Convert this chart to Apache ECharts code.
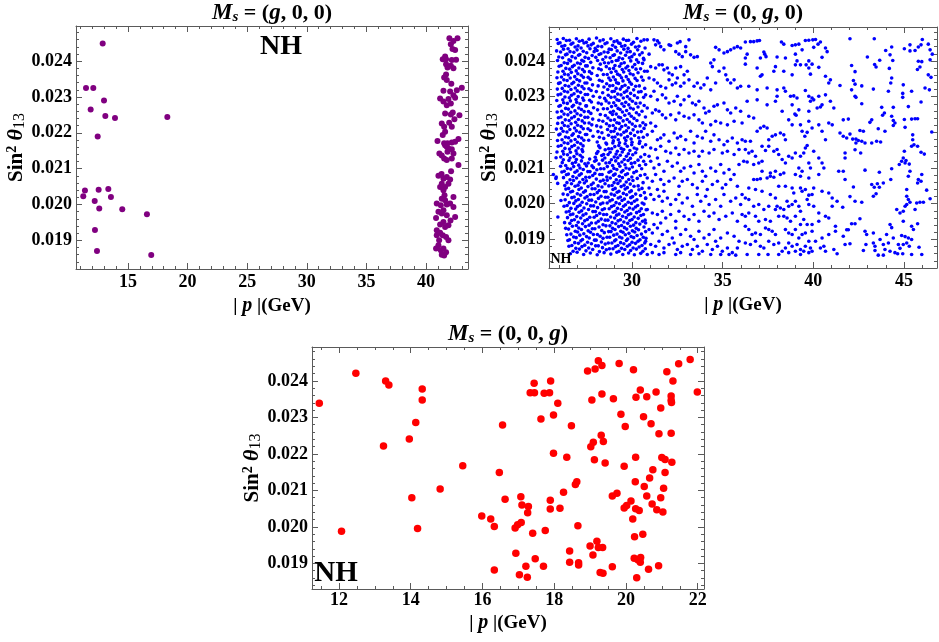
<!DOCTYPE html>
<html>
<head>
<meta charset="utf-8">
<script src="https://cdn.jsdelivr.net/npm/echarts@6/dist/echarts.min.js"></script>
<style>
html,body{margin:0;padding:0;background:#fff}
#chart{width:939px;height:642px}
</style>
</head>
<body>
<div id="chart"></div>
<script>
// ---- scan points: [ |p| in GeV , sin^2 theta13 ] ----

// M_s = (g, 0, 0)
const msG00 = [
[12.88,.02449],[11.48,.02325],[12.09,.02325],[12.99,.02290],[11.87,.02265],[13.10,.02247],[13.91,.02241],
[18.30,.02244],[12.46,.02190],[11.39,.02039],[11.25,.02023],[12.54,.02041],[13.35,.02043],[13.57,.02021],
[12.21,.02010],[12.59,.01989],[14.52,.01987],[16.59,.01973],[12.23,.01929],[12.40,.01870],[16.95,.01859],
[41.96,.02464],[42.30,.02456],[42.64,.02464],[42.08,.02447],[42.22,.02434],[42.44,.02431],[41.60,.02413],
[41.68,.02405],[42.16,.02403],[41.68,.02391],[42.08,.02387],[42.30,.02380],[41.80,.02382],[41.68,.02363],
[41.52,.02354],[41.74,.02347],[43.00,.02326],[42.58,.02319],[41.46,.02317],[42.02,.02315],[42.30,.02305],
[41.18,.02296],[41.46,.02287],[41.88,.02294],[42.08,.02282],[41.74,.02277],[42.44,.02298],[41.60,.02254],
[42.08,.02251],[42.24,.02257],[42.80,.02249],[41.32,.02226],[41.52,.02217],[42.16,.02217],[41.60,.02203],
[40.96,.02177],[41.40,.02194],[41.52,.02171],[41.80,.02171],[42.16,.02173],[42.44,.02175],[42.72,.02183],
[41.74,.02161],[41.60,.02165],[41.88,.02156],[42.16,.02154],[41.80,.02147],[42.30,.02142],[41.32,.02137],
[41.12,.02142],[41.52,.02128],[41.74,.02124],[42.16,.02128],[42.72,.02110],[41.04,.02080],[41.46,.02072],
[41.74,.02077],[42.02,.02070],[41.32,.02058],[41.88,.02058],[41.60,.02049],[41.18,.02049],[41.46,.02040],
[42.30,.02021],[41.32,.02016],[41.60,.02012],[40.90,.02003],[41.24,.01998],[41.74,.02000],[42.02,.02003],
[42.30,.01993],[41.46,.01984],[41.04,.01980],[41.32,.01975],[40.84,.01962],[41.74,.01970],[42.44,.01965],
[41.46,.01951],[41.18,.01944],[41.60,.01937],[41.88,.01942],[40.90,.01928],[41.18,.01921],[41.40,.01914],
[40.90,.01914],[41.68,.01909],[41.88,.01900],[41.04,.01886],[40.84,.01877],[41.24,.01872],[41.46,.01877],
[41.68,.01867],[41.32,.01860],[41.52,.01858],[42.12,.02337],[41.94,.02228],[42.38,.02238],[41.30,.02085],
[42.10,.02093],[41.55,.02026],[42.05,.01955],[41.10,.01900],[42.52,.02404],[41.40,.02405]
];

// M_s = (0, g, 0), dense low |p| strip
const ms0G0a = [
[25.87,.02460],[26.21,.02463],[26.55,.02458],[26.93,.02462],[27.26,.02457],[27.63,.02461],[28.04,.02464],[28.41,.02459],[28.83,.02462],[29.17,.02456],[29.52,.02461],[29.81,.02458],[30.27,.02463],[30.66,.02459],
[26.03,.02451],[26.38,.02457],[26.74,.02450],[27.09,.02455],[27.48,.02452],[27.86,.02449],[28.23,.02456],[28.62,.02451],[29.01,.02454],[29.34,.02449],[29.69,.02457],[30.08,.02452],[30.49,.02455],
[25.93,.02449],[26.29,.02443],[26.64,.02447],[27.02,.02442],[27.35,.02450],[27.75,.02445],[28.12,.02441],[28.51,.02448],[28.93,.02444],[29.26,.02450],[29.61,.02443],[29.97,.02447],[30.38,.02441],
[26.13,.02441],[26.47,.02434],[26.86,.02439],[27.19,.02436],[27.57,.02442],[27.97,.02435],[28.33,.02440],[28.74,.02433],[29.09,.02438],[29.43,.02441],[29.78,.02435],[30.19,.02439],[30.72,.02436],
[25.84,.02428],[26.22,.02433],[26.58,.02426],[26.97,.02431],[27.31,.02427],[27.68,.02434],[28.07,.02429],[28.46,.02425],[28.86,.02432],[29.18,.02428],[29.55,.02433],[29.90,.02426],[30.31,.02431],
[26.06,.02425],[26.41,.02419],[26.79,.02424],[27.12,.02418],[27.50,.02423],[27.91,.02426],[28.28,.02420],[28.67,.02424],[29.03,.02417],[29.37,.02422],[29.73,.02425],[30.12,.02419],[30.56,.02423],
[25.96,.02411],[26.33,.02417],[26.69,.02412],[27.05,.02416],[27.41,.02410],[27.80,.02415],[28.18,.02418],[28.55,.02411],[28.95,.02415],[29.29,.02409],[29.64,.02416],[29.99,.02412],[30.42,.02417],
[26.17,.02409],[26.52,.02403],[26.88,.02408],[27.23,.02402],[27.60,.02407],[28.00,.02410],[28.39,.02404],[28.79,.02409],[29.13,.02401],[29.48,.02406],[29.85,.02409],[30.25,.02403],[30.63,.02407],
[25.89,.02401],[26.26,.02395],[26.61,.02400],[26.99,.02394],[27.33,.02399],[27.72,.02396],[28.10,.02401],[28.48,.02395],[28.89,.02398],[29.22,.02402],[29.57,.02395],[29.93,.02400],[30.35,.02396],
[26.09,.02387],[26.44,.02393],[26.81,.02388],[27.15,.02392],[27.53,.02386],[28.25,.02391],[28.70,.02394],[29.06,.02387],[29.40,.02392],[29.76,.02385],[30.15,.02390],[30.58,.02393],
[25.98,.02385],[26.35,.02379],[26.71,.02384],[27.07,.02380],[27.44,.02386],[27.84,.02381],[28.16,.02378],[28.58,.02384],[28.98,.02379],[29.31,.02385],[29.66,.02380],[30.03,.02383],[30.47,.02378],
[26.19,.02371],[26.56,.02377],[26.92,.02372],[27.27,.02376],[27.65,.02370],[28.30,.02375],[28.76,.02378],[29.11,.02371],[29.46,.02376],[29.83,.02373],[30.22,.02377],[30.69,.02371],
[25.91,.02369],[26.28,.02363],[26.65,.02368],[27.01,.02364],[27.37,.02370],[27.77,.02365],[28.42,.02362],[28.85,.02368],[29.20,.02363],[29.54,.02369],[29.90,.02364],[30.33,.02367],
[26.11,.02355],[26.48,.02361],[26.84,.02356],[27.20,.02360],[27.58,.02354],[28.08,.02359],[28.63,.02362],[28.97,.02355],[29.32,.02360],[29.68,.02356],[30.06,.02361],[30.52,.02355],
[25.86,.02353],[26.24,.02347],[26.59,.02352],[26.96,.02348],[27.32,.02354],[27.70,.02349],[28.20,.02346],[28.72,.02352],[29.08,.02347],[29.42,.02353],[29.79,.02348],[30.17,.02351],[30.61,.02346],
[26.04,.02339],[26.42,.02345],[26.78,.02340],[27.11,.02344],[27.51,.02338],[28.35,.02343],[28.81,.02346],[29.15,.02339],[29.50,.02344],[29.87,.02341],[30.28,.02345],
[25.95,.02337],[26.31,.02331],[26.68,.02336],[27.04,.02332],[27.40,.02338],[27.82,.02333],[28.13,.02330],[28.60,.02336],[28.94,.02331],[29.25,.02337],[29.61,.02332],[29.97,.02335],[30.40,.02330],
[26.15,.02323],[26.51,.02329],[26.87,.02324],[27.24,.02328],[27.62,.02322],[28.45,.02327],[28.77,.02330],[29.12,.02323],[29.45,.02328],[29.80,.02325],[30.20,.02329],[30.70,.02323],
[25.88,.02321],[26.27,.02315],[26.63,.02320],[26.98,.02316],[27.35,.02322],[27.74,.02317],[28.03,.02314],[28.66,.02320],[29.02,.02315],[29.35,.02321],[29.71,.02316],[30.09,.02319],[30.50,.02314],
[26.07,.02307],[26.45,.02313],[26.80,.02308],[27.16,.02312],[27.55,.02306],[28.38,.02311],[28.90,.02314],[29.21,.02307],[29.58,.02312],[29.92,.02309],[30.36,.02313],
[25.92,.02305],[26.30,.02299],[26.66,.02304],[27.03,.02300],[27.42,.02306],[27.86,.02301],[28.22,.02298],[28.69,.02304],[29.05,.02299],[29.39,.02305],[29.74,.02300],[30.13,.02303],[30.64,.02298],
[26.18,.02291],[26.54,.02297],[26.91,.02292],[27.28,.02296],[27.66,.02290],[28.49,.02295],[28.84,.02298],[29.17,.02291],[29.52,.02296],[29.88,.02293],[30.30,.02297],
[25.85,.02289],[26.23,.02283],[26.60,.02288],[26.95,.02284],[27.33,.02290],[27.76,.02285],[28.14,.02282],[28.57,.02288],[28.99,.02283],[29.28,.02289],[29.65,.02284],[30.02,.02287],[30.45,.02282],
[26.05,.02275],[26.43,.02281],[26.77,.02276],[27.13,.02280],[27.49,.02274],[28.31,.02279],[28.73,.02282],[29.10,.02275],[29.44,.02280],[29.82,.02277],[30.21,.02281],[30.67,.02275],
[25.97,.02273],[26.34,.02267],[26.70,.02272],[27.06,.02268],[27.45,.02274],[27.88,.02269],[28.42,.02266],[28.87,.02272],[29.23,.02267],[29.56,.02273],[29.91,.02268],[30.33,.02271],
[26.12,.02259],[26.49,.02265],[26.85,.02260],[27.21,.02264],[27.60,.02258],[28.10,.02263],[28.64,.02266],[28.97,.02259],[29.34,.02264],[29.70,.02261],[30.07,.02265],[30.55,.02259],
[25.87,.02257],[26.25,.02251],[26.62,.02256],[26.97,.02252],[27.36,.02258],[27.73,.02253],[28.25,.02250],[28.80,.02256],[29.13,.02251],[29.47,.02257],[29.84,.02252],[30.24,.02255],
[26.08,.02243],[26.46,.02249],[26.82,.02244],[27.17,.02248],[27.56,.02242],[28.53,.02247],[28.92,.02250],[29.26,.02243],[29.60,.02248],[29.96,.02245],[30.39,.02249],[30.74,.02243],
[25.94,.02241],[26.32,.02235],[26.67,.02240],[27.04,.02236],[27.40,.02242],[27.83,.02237],[28.17,.02234],[28.67,.02240],[29.03,.02235],[29.37,.02241],[29.73,.02236],[30.11,.02239],
[26.16,.02227],[26.53,.02233],[26.89,.02228],[27.25,.02232],[27.63,.02226],[28.39,.02231],[28.82,.02234],[29.16,.02227],[29.51,.02232],[29.86,.02229],[30.27,.02233],[30.60,.02227],
[25.90,.02225],[26.27,.02219],[26.64,.02224],[27.00,.02220],[27.38,.02226],[27.78,.02221],[28.05,.02218],[28.59,.02224],[28.96,.02219],[29.29,.02225],[29.64,.02220],[30.01,.02223],[30.44,.02218],
[26.10,.02211],[26.47,.02217],[26.83,.02212],[27.19,.02216],[27.57,.02210],[28.28,.02215],[28.75,.02218],[29.09,.02211],[29.43,.02216],[29.80,.02213],[30.18,.02217],[30.66,.02211],
[25.83,.02209],[26.20,.02203],[26.57,.02208],[26.93,.02204],[27.31,.02210],[27.70,.02205],[28.12,.02202],[28.65,.02208],[29.00,.02203],[29.33,.02209],[29.69,.02204],[30.06,.02207],[30.51,.02202],
[26.03,.02195],[26.41,.02201],[26.76,.02196],[27.12,.02200],[27.50,.02194],[28.34,.02199],[28.84,.02202],[29.20,.02195],[29.55,.02200],[29.92,.02197],[30.31,.02201],
[25.96,.02193],[26.33,.02187],[26.69,.02192],[27.05,.02188],[27.43,.02194],[27.85,.02189],[28.20,.02186],[28.70,.02192],[29.06,.02187],[29.39,.02193],[29.75,.02188],[30.14,.02191],[30.62,.02186],
[26.14,.02179],[26.50,.02185],[26.86,.02180],[27.22,.02184],[27.61,.02178],[28.44,.02183],[28.91,.02186],[29.24,.02179],[29.59,.02184],[29.95,.02181],[30.37,.02185],
[25.89,.02177],[26.26,.02171],[26.63,.02176],[26.99,.02172],[27.34,.02178],[28.08,.02173],[28.56,.02170],[28.97,.02176],[29.31,.02171],[29.66,.02177],[30.00,.02172],[30.43,.02175],
[26.09,.02163],[26.46,.02169],[26.82,.02164],[27.17,.02168],[28.16,.02162],[28.60,.02167],[28.94,.02170],[29.27,.02163],[29.62,.02168],[29.98,.02165],[30.40,.02169],
[25.93,.02161],[26.30,.02155],[26.68,.02160],[27.03,.02156],[27.30,.02162],[28.23,.02157],[28.71,.02154],[29.05,.02160],[29.40,.02155],[29.74,.02161],[30.12,.02156],[30.58,.02159],
[26.18,.02147],[26.55,.02153],[26.91,.02148],[27.24,.02152],[28.12,.02146],[28.52,.02151],[28.88,.02154],[29.19,.02147],[29.54,.02152],[29.88,.02149],[30.26,.02153],
[25.86,.02145],[26.23,.02139],[26.60,.02144],[26.96,.02140],[27.28,.02146],[28.05,.02141],[28.43,.02138],[28.79,.02144],[29.12,.02139],[29.46,.02145],[29.80,.02140],[30.20,.02143],[30.70,.02138],
[26.07,.02131],[26.44,.02137],[26.80,.02132],[27.14,.02136],[27.97,.02130],[28.33,.02135],[28.68,.02138],[29.02,.02131],[29.35,.02136],[29.69,.02133],[30.04,.02137],[30.48,.02131],
[25.81,.02129],[26.21,.02123],[26.58,.02128],[26.93,.02124],[27.26,.02130],[27.66,.02125],[28.02,.02122],[28.50,.02128],[28.86,.02123],[29.21,.02129],[29.57,.02124],[29.91,.02127],[30.33,.02122],
[26.15,.02115],[26.52,.02121],[26.88,.02116],[27.21,.02120],[27.58,.02114],[27.94,.02119],[28.37,.02122],[28.76,.02115],[29.10,.02120],[29.44,.02117],[29.78,.02121],[30.15,.02115],[30.64,.02119],
[26.34,.02107],[26.71,.02113],[27.06,.02108],[27.40,.02112],[27.79,.02106],[28.18,.02111],[28.56,.02114],[28.93,.02107],[29.26,.02112],[29.61,.02109],[29.96,.02113],[30.41,.02107],
[26.06,.02105],[26.43,.02099],[26.78,.02104],[27.13,.02100],[27.49,.02106],[27.87,.02101],[28.27,.02098],[28.64,.02104],[29.00,.02099],[29.33,.02105],[29.67,.02100],[30.02,.02103],[30.53,.02098],
[26.26,.02091],[26.62,.02097],[26.97,.02092],[27.31,.02096],[27.68,.02090],[28.06,.02095],[28.45,.02098],[28.83,.02091],[29.16,.02096],[29.50,.02093],[29.85,.02097],[30.24,.02091],
[26.13,.02089],[26.49,.02083],[26.85,.02088],[27.20,.02084],[27.56,.02090],[27.95,.02085],[28.35,.02082],[28.73,.02088],[29.07,.02083],[29.41,.02089],[29.75,.02084],[30.10,.02087],[30.71,.02082],
[25.82,.02075],[26.38,.02081],[26.74,.02076],[27.09,.02080],[27.45,.02074],[27.83,.02079],[28.22,.02082],[28.61,.02075],[28.98,.02080],[29.30,.02077],[29.64,.02081],[29.99,.02075],[30.46,.02079],
[26.22,.02073],[26.58,.02067],[26.94,.02072],[27.29,.02068],[27.65,.02074],[28.03,.02069],[28.41,.02066],[28.80,.02072],[29.13,.02067],[29.47,.02073],[29.82,.02068],[30.29,.02071],
[26.41,.02059],[26.77,.02065],[27.11,.02060],[27.48,.02064],[27.86,.02058],[28.25,.02063],[28.63,.02066],[29.01,.02059],[29.34,.02064],[29.68,.02061],[30.05,.02065],[30.61,.02059],
[25.90,.02057],[26.29,.02051],[26.66,.02056],[27.02,.02052],[27.37,.02058],[27.75,.02053],[28.13,.02050],[28.51,.02056],[28.90,.02051],[29.22,.02057],[29.56,.02052],[29.90,.02055],[30.34,.02050],
[26.50,.02043],[26.86,.02049],[27.20,.02044],[27.57,.02048],[27.96,.02042],[28.34,.02047],[28.72,.02050],[29.07,.02043],[29.40,.02048],[29.74,.02045],[30.11,.02049],[30.55,.02043],
[26.35,.02041],[26.72,.02035],[27.07,.02040],[27.43,.02036],[27.80,.02042],[28.19,.02037],[28.57,.02034],[28.95,.02040],[29.28,.02035],[29.62,.02041],[29.96,.02036],[30.38,.02039],
[26.20,.02027],[26.61,.02033],[26.98,.02028],[27.33,.02032],[27.70,.02026],[28.08,.02031],[28.46,.02034],[28.85,.02027],[29.18,.02032],[29.52,.02029],[29.87,.02033],[30.20,.02027],[30.68,.02031],
[26.45,.02025],[26.81,.02019],[27.16,.02024],[27.52,.02020],[27.90,.02026],[28.29,.02021],[28.67,.02018],[29.03,.02024],[29.36,.02019],[29.70,.02025],[30.03,.02020],[30.47,.02023],
[26.31,.02011],[26.68,.02017],[27.04,.02012],[27.40,.02016],[27.77,.02010],[28.15,.02015],[28.53,.02018],[28.91,.02011],[29.24,.02016],[29.58,.02013],[29.93,.02017],[30.27,.02011],[30.75,.02015],
[26.08,.02009],[26.54,.02003],[26.90,.02008],[27.25,.02004],[27.62,.02010],[28.00,.02005],[28.39,.02002],[28.78,.02008],[29.12,.02003],[29.45,.02009],[29.79,.02004],[30.13,.02007],[30.56,.02002],
[26.42,.01995],[26.79,.02001],[27.13,.01996],[27.50,.02000],[27.88,.01994],[28.26,.01999],[28.63,.02002],[29.00,.01995],[29.31,.02000],[29.64,.01997],[29.97,.02001],[30.31,.01995],[30.66,.01999],
[26.25,.01993],[26.63,.01987],[26.99,.01992],[27.35,.01988],[27.72,.01994],[28.10,.01989],[28.48,.01986],[28.87,.01992],[29.20,.01987],[29.53,.01993],[29.86,.01988],[30.19,.01991],[30.51,.01986],
[26.53,.01979],[26.89,.01985],[27.22,.01980],[27.60,.01984],[27.98,.01978],[28.36,.01983],[28.74,.01986],[29.08,.01979],[29.41,.01984],[29.73,.01981],[30.06,.01985],[30.40,.01979],[30.78,.01983],
[26.37,.01977],[26.74,.01971],[27.08,.01976],[27.46,.01972],[27.84,.01978],[28.22,.01973],[28.60,.01970],[28.96,.01976],[29.28,.01971],[29.60,.01977],[29.93,.01972],[30.25,.01975],[30.63,.01970],
[25.91,.01963],[26.60,.01969],[26.95,.01964],[27.30,.01968],[27.67,.01962],[28.05,.01967],[28.43,.01970],[28.82,.01963],[29.15,.01968],[29.48,.01965],[29.80,.01969],[30.12,.01963],[30.49,.01967],
[26.44,.01961],[26.82,.01955],[27.17,.01960],[27.53,.01956],[27.91,.01962],[28.30,.01957],[28.67,.01954],[29.04,.01960],[29.36,.01955],[29.68,.01961],[30.00,.01956],[30.34,.01959],[30.72,.01954],
[26.28,.01947],[26.67,.01953],[27.03,.01948],[27.39,.01952],[27.76,.01946],[28.14,.01951],[28.52,.01954],[28.90,.01947],[29.23,.01952],[29.55,.01949],[29.88,.01953],[30.21,.01947],[30.58,.01951],
[26.57,.01945],[26.93,.01939],[27.27,.01944],[27.63,.01940],[28.01,.01946],[28.40,.01941],[28.78,.01938],[29.10,.01944],[29.42,.01939],[29.76,.01945],[30.08,.01940],[30.43,.01943],
[26.34,.01931],[26.71,.01937],[27.06,.01932],[27.43,.01936],[27.81,.01930],[28.18,.01935],[28.56,.01938],[28.93,.01931],[29.26,.01936],[29.58,.01933],[29.91,.01937],[30.23,.01931],[30.66,.01935],
[26.50,.01929],[26.87,.01923],[27.21,.01928],[27.58,.01924],[27.95,.01930],[28.33,.01925],[28.71,.01922],[29.06,.01928],[29.38,.01923],[29.71,.01929],[30.02,.01924],[30.36,.01927],[30.75,.01922],
[26.63,.01915],[27.00,.01921],[27.34,.01916],[27.71,.01920],[28.09,.01914],[28.47,.01919],[28.84,.01922],[29.17,.01915],[29.50,.01920],[29.83,.01917],[30.15,.01921],[30.52,.01915],
[26.40,.01913],[26.78,.01907],[27.12,.01912],[27.49,.01908],[27.87,.01914],[28.24,.01909],[28.62,.01906],[28.99,.01912],[29.31,.01907],[29.63,.01913],[29.95,.01908],[30.28,.01911],[30.62,.01906],
[26.55,.01899],[26.92,.01905],[27.27,.01900],[27.64,.01904],[28.02,.01898],[28.40,.01903],[28.77,.01906],[29.11,.01899],[29.44,.01904],[29.76,.01901],[30.09,.01905],[30.44,.01899],[30.77,.01903],
[26.46,.01897],[26.84,.01891],[27.18,.01896],[27.55,.01892],[27.93,.01898],[28.31,.01893],[28.69,.01890],[29.04,.01896],[29.37,.01891],[29.69,.01897],[30.00,.01892],[30.33,.01895],[30.70,.01890],
[26.68,.01883],[27.04,.01889],[27.39,.01884],[27.76,.01888],[28.14,.01882],[28.52,.01887],[28.89,.01890],[29.22,.01883],[29.55,.01888],[29.87,.01885],[30.19,.01889],[30.55,.01883],
[26.52,.01881],[26.90,.01875],[27.24,.01880],[27.61,.01876],[27.99,.01882],[28.37,.01877],[28.75,.01874],[29.09,.01880],[29.42,.01875],[29.74,.01881],[30.06,.01876],[30.39,.01879],[30.73,.01874],
[26.75,.01867],[27.10,.01873],[27.46,.01868],[27.83,.01872],[28.20,.01866],[28.58,.01871],[28.95,.01874],[29.28,.01867],[29.60,.01872],[29.92,.01869],[30.24,.01873],[30.60,.01867],
[26.60,.01860],[26.97,.01864],[27.33,.01858],[27.70,.01862],[28.08,.01857],[28.46,.01863],[28.83,.01859],[29.16,.01864],[29.49,.01858],[29.81,.01862],[30.13,.01857],[30.48,.01861],
[25.66,.02082],[25.80,.02071]
];

// M_s = (0, g, 0), 30.7 - 36 GeV
const ms0G0b = [
[30.84,.02459],[31.21,.02459],[31.40,.02456],[31.49,.02450],[31.30,.02445],[31.58,.02440],[31.76,.02431],[32.04,.02445],[32.13,.02443],[32.50,.02450],[32.65,.02454],[32.96,.02440],[32.96,.02426],[33.14,.02459],[32.41,.02426],[32.59,.02419],[32.77,.02412],[33.23,.02417],[33.42,.02410],[33.60,.02412],[34.61,.02438],[34.80,.02431],[35.07,.02422],[35.26,.02426],[35.44,.02431],[35.63,.02436],[35.81,.02440],[35.99,.02436],[34.34,.02394],[34.43,.02384],[34.52,.02403],[30.66,.02403],[30.94,.02419],
[30.84,.02371],[31.03,.02384],[31.30,.02380],[31.49,.02389],[31.67,.02389],[31.76,.02375],[31.95,.02380],[32.04,.02366],[32.22,.02361],[32.41,.02380],[32.50,.02352],[32.68,.02384],[32.87,.02361],[33.05,.02371],[30.94,.02352],[31.21,.02347],[31.40,.02338],[31.58,.02329],[31.86,.02324],[32.04,.02347],[32.22,.02333],[32.41,.02338],[32.68,.02329],[32.87,.02338],[33.14,.02347],[33.42,.02329],[33.60,.02338],[33.79,.02324],[33.97,.02333],[34.61,.02338],[34.80,.02371],[35.07,.02380],[35.17,.02361],[35.26,.02347],[35.44,.02338],[35.63,.02347],[35.81,.02324],[35.99,.02329],[34.34,.02319],[34.15,.02352],
[30.75,.02305],[31.03,.02301],[31.21,.02315],[31.40,.02291],[31.67,.02305],[31.86,.02296],[32.04,.02282],[32.32,.02287],[32.50,.02301],[32.68,.02277],[32.87,.02291],[33.14,.02301],[33.33,.02282],[33.51,.02277],[33.69,.02287],[33.97,.02268],[34.06,.02254],[34.25,.02259],[34.52,.02273],[34.71,.02277],[35.07,.02282],[35.26,.02263],[35.44,.02254],[35.72,.02268],[35.99,.02259],[30.84,.02268],[31.12,.02254],[31.30,.02263],[31.49,.02259],[31.67,.02249],[31.86,.02240],[32.13,.02249],[32.41,.02235],[32.59,.02254],[32.87,.02245],[33.14,.02240],[33.42,.02249],[33.69,.02235],[33.88,.02226],[34.34,.02221],[34.61,.02231],[34.89,.02226],[35.26,.02221],[35.63,.02231],[30.75,.02221],[31.03,.02226],[31.30,.02217],
[30.84,.02193],[31.12,.02203],[31.40,.02179],[31.58,.02184],[31.76,.02193],[32.04,.02175],[32.32,.02198],[32.50,.02184],[32.68,.02189],[32.96,.02179],[33.23,.02203],[33.42,.02170],[33.60,.02189],[33.88,.02184],[34.06,.02203],[34.34,.02175],[34.52,.02193],[34.80,.02179],[35.07,.02165],[35.26,.02175],[35.53,.02184],[35.81,.02170],[30.75,.02165],[31.03,.02156],[31.30,.02152],[31.58,.02161],[31.86,.02147],[32.13,.02142],[32.41,.02156],[32.59,.02138],[32.87,.02152],[33.14,.02142],[33.42,.02147],[33.69,.02133],[33.88,.02147],[34.25,.02142],[34.52,.02152],[34.98,.02142],[35.26,.02147],[35.63,.02138],[35.90,.02152],[30.94,.02133],[31.40,.02128],
[30.75,.02110],[31.03,.02119],[31.21,.02100],[31.49,.02110],[31.76,.02091],[31.95,.02119],[32.22,.02105],[32.50,.02114],[32.68,.02091],[32.87,.02100],[33.23,.02105],[33.42,.02086],[33.69,.02110],[33.88,.02091],[34.06,.02077],[34.34,.02100],[34.61,.02091],[34.89,.02110],[35.07,.02086],[35.35,.02096],[35.63,.02082],[35.90,.02110],[30.84,.02072],[31.12,.02063],[31.30,.02082],[31.58,.02068],[31.76,.02054],[32.04,.02063],[32.32,.02072],[32.59,.02049],[32.77,.02063],[33.05,.02068],[33.33,.02054],[33.60,.02044],[33.88,.02063],[34.15,.02040],[34.43,.02054],[34.71,.02063],[34.98,.02044],[35.17,.02054],[35.44,.02068],[35.81,.02049],[30.94,.02044],[31.40,.02040],[31.76,.02035],
[30.75,.02016],[31.03,.02026],[31.21,.02012],[31.49,.02021],[31.67,.02007],[31.95,.02016],[32.13,.01998],[32.41,.02012],[32.59,.02026],[32.77,.02002],[33.05,.02016],[33.33,.01993],[33.60,.02026],[33.79,.02007],[34.06,.02021],[34.25,.01998],[34.61,.02012],[34.89,.01993],[35.07,.02026],[35.44,.02007],[35.72,.02016],[35.99,.01998],[30.84,.01984],[31.12,.01974],[31.40,.01970],[31.67,.01979],[31.86,.01960],[32.13,.01970],[32.41,.01951],[32.59,.01979],[32.87,.01965],[33.14,.01956],[33.42,.01970],[33.69,.01951],[33.97,.01979],[34.25,.01965],[34.52,.01974],[34.80,.01956],[35.17,.01965],[35.53,.01974],[35.81,.01951],[30.75,.01946],[31.21,.01942],[31.58,.01946],
[30.94,.01928],[31.12,.01918],[31.40,.01932],[31.67,.01914],[31.95,.01923],[32.22,.01904],[32.41,.01932],[32.68,.01914],[32.96,.01928],[33.23,.01909],[33.42,.01900],[33.69,.01923],[33.97,.01904],[34.25,.01914],[34.52,.01928],[34.61,.01895],[34.89,.01904],[35.26,.01918],[35.63,.01909],[35.90,.01895],[30.75,.01895],[31.03,.01886],[31.30,.01881],[31.49,.01895],[31.76,.01876],[32.04,.01886],[32.32,.01890],[32.50,.01872],[32.77,.01881],[33.05,.01886],[33.33,.01872],[33.60,.01881],[33.88,.01867],[34.15,.01886],[34.43,.01872],[34.71,.01881],[34.98,.01867],[35.26,.01876],[35.53,.01863],[35.81,.01876],[30.84,.01858],[31.12,.01863],[31.49,.01858],[31.76,.01863],[32.41,.01858],[32.68,.01863],[33.23,.01858],[33.69,.01860],[34.34,.01858],[34.89,.01858],[35.35,.01858],[35.72,.01856]
];

// M_s = (0, g, 0), 36 - 41.5 GeV
const ms0G0c = [
[36.25,.02453],[36.53,.02454],[36.71,.02454],[36.90,.02456],[37.03,.02457],[38.24,.02453],[38.37,.02447],[38.83,.02443],[39.01,.02445],[39.20,.02447],[39.56,.02457],[39.75,.02458],[39.97,.02459],[40.12,.02460],[40.26,.02447],[40.39,.02453],[40.67,.02436],[40.02,.02438],[39.38,.02431],
[36.35,.02419],[36.25,.02408],[37.08,.02408],[37.27,.02425],[37.39,.02412],[37.32,.02419],[38.00,.02411],[38.46,.02408],[39.01,.02419],[39.10,.02400],[39.75,.02400],[39.29,.02389],[39.60,.02389],[39.93,.02391],[40.48,.02410],[40.76,.02426],[36.25,.02391],[36.90,.02380],[37.08,.02357],[37.17,.02361],[37.91,.02384],[37.82,.02371],[38.37,.02371],[38.83,.02361],[39.01,.02389],[39.75,.02380],[39.84,.02363],[40.30,.02382],[40.67,.02357],[40.94,.02347],[40.85,.02338],
[36.44,.02329],[36.90,.02319],[37.45,.02324],[38.00,.02319],[38.37,.02324],[38.46,.02315],[38.74,.02301],[38.92,.02302],[39.10,.02296],[39.56,.02317],[39.75,.02301],[39.93,.02296],[40.30,.02301],[40.48,.02277],[40.39,.02271],[40.21,.02268],[36.35,.02287],[36.90,.02291],[37.45,.02277],[37.91,.02287],[38.00,.02301],[38.28,.02259],[38.83,.02277],[38.98,.02251],[39.05,.02248],[39.20,.02263],[39.75,.02259],[39.84,.02287],[40.02,.02291],[40.67,.02305],[40.94,.02287],[41.13,.02268],
[36.07,.02226],[36.44,.02245],[36.71,.02240],[37.08,.02212],[36.90,.02203],[37.27,.02217],[37.45,.02212],[37.54,.02179],[37.73,.02189],[37.91,.02193],[38.18,.02198],[38.37,.02193],[38.64,.02235],[38.83,.02221],[39.29,.02221],[39.38,.02203],[39.53,.02189],[39.66,.02200],[39.75,.02231],[39.93,.02212],[40.30,.02221],[40.48,.02203],[40.85,.02226],[41.04,.02221],[40.67,.02179],[38.46,.02179],[36.07,.02179],[36.25,.02175],[36.53,.02175],[37.17,.02161],
[36.25,.02152],[36.44,.02142],[36.62,.02147],[36.81,.02133],[37.17,.02119],[37.36,.02149],[37.54,.02161],[37.82,.02147],[38.00,.02152],[38.09,.02138],[38.28,.02124],[38.46,.02114],[38.64,.02133],[38.83,.02128],[39.01,.02142],[39.29,.02133],[39.47,.02142],[39.56,.02156],[39.66,.02163],[39.20,.02100],[39.38,.02091],[39.75,.02114],[39.84,.02100],[40.30,.02128],[40.48,.02114],[40.58,.02100],[40.02,.02147],[36.16,.02119],[36.35,.02117],[36.71,.02110],[36.99,.02114],[37.17,.02091],[37.63,.02086],[37.91,.02091],[38.18,.02082],[38.37,.02086],[39.01,.02082],[39.29,.02077],[39.75,.02072],[40.30,.02082],[41.40,.02091],
[36.71,.02068],[36.90,.02068],[37.08,.02070],[37.45,.02072],[37.63,.02077],[37.82,.02074],[36.44,.02044],[36.81,.02040],[37.17,.02035],[37.63,.02026],[37.91,.02016],[38.09,.02049],[38.46,.02049],[38.83,.02044],[38.92,.02030],[39.29,.02044],[39.38,.02035],[39.56,.02040],[39.66,.02012],[39.75,.02024],[39.93,.02026],[40.02,.02044],[40.48,.02035],[40.85,.02030],[41.04,.02016],[36.07,.02026],[36.25,.02016],[36.44,.02012],[36.71,.01993],[36.99,.01998],[37.27,.01984],[37.54,.01993],[37.91,.01984],[38.00,.01993],[38.18,.01988],[38.37,.01984],[38.55,.02007],[38.64,.01993],[38.83,.01998],[39.01,.02007],[39.20,.01993],[39.29,.01979],[39.75,.01998],[40.02,.01993],[40.30,.01974],[41.04,.01993],[41.31,.02007],
[36.07,.01970],[36.25,.01965],[36.44,.01974],[36.81,.01965],[36.99,.01951],[37.36,.01956],[37.63,.01951],[38.09,.01965],[38.37,.01965],[38.55,.01960],[38.74,.01951],[39.01,.01965],[39.29,.01942],[39.47,.01956],[39.66,.01942],[39.93,.01942],[40.30,.01951],[40.67,.01965],[40.85,.01960],[41.22,.01937],[36.25,.01937],[36.44,.01928],[36.62,.01914],[36.81,.01918],[37.08,.01914],[37.36,.01932],[37.54,.01928],[37.73,.01923],[37.91,.01914],[38.46,.01928],[38.64,.01918],[38.83,.01914],[39.01,.01928],[39.20,.01904],[39.38,.01914],[39.56,.01918],[39.93,.01923],[39.75,.01895],[40.12,.01895],[40.48,.01904],[40.85,.01914],[41.22,.01923],
[36.25,.01890],[36.53,.01886],[36.81,.01895],[37.08,.01881],[37.27,.01876],[37.54,.01895],[37.82,.01886],[38.09,.01890],[38.28,.01867],[38.46,.01876],[38.64,.01890],[38.83,.01881],[39.01,.01867],[39.10,.01886],[39.29,.01872],[39.47,.01867],[39.56,.01881],[39.84,.01876],[36.35,.01858],[36.99,.01858],[37.50,.01858],[38.09,.01858],[38.64,.01863],[39.29,.01858],[39.75,.01863],[39.93,.01867],[40.39,.01876],[40.67,.01867],[41.13,.01872],[41.31,.01860],[40.58,.01881]
];

// M_s = (0, g, 0), sparse tail above 41.5 GeV
const ms0G0d = [
[42.02,.02462],[43.36,.02462],[46.01,.02460],[44.32,.02439],[43.99,.02429],[45.02,.02434],[45.33,.02445],[45.33,.02428],[45.61,.02429],[45.79,.02439],[45.94,.02445],[46.34,.02447],[46.44,.02431],[46.56,.02419],
[42.98,.02411],[43.66,.02402],[43.38,.02390],[43.46,.02383],[44.38,.02401],[44.23,.02417],[42.11,.02387],[42.30,.02370],[44.19,.02379],[45.79,.02399],[45.98,.02398],[46.44,.02403],[45.88,.02383],[45.74,.02376],[46.34,.02361],[46.49,.02354],
[41.47,.02331],[42.21,.02345],[42.30,.02335],[42.67,.02330],[43.31,.02321],[44.27,.02338],[44.32,.02352],[44.96,.02333],[46.16,.02324],[46.40,.02319],[42.11,.02319],[44.14,.02315],[42.30,.02301],[42.35,.02298],[44.93,.02309],[44.93,.02298],[45.42,.02315],
[42.67,.02280],[45.94,.02285],[43.77,.02270],[44.41,.02270],[45.24,.02272],[43.92,.02254],[43.82,.02248],[44.41,.02233],[44.50,.02226],[44.32,.02245],[43.22,.02235],[43.12,.02228],[41.93,.02237],[41.65,.02235],[45.42,.02237],[45.61,.02238],[45.75,.02238],[45.02,.02236],[45.06,.02214],[44.41,.02219],
[42.57,.02205],[42.76,.02203],[43.58,.02210],[43.95,.02203],[46.53,.02201],[41.47,.02198],[41.65,.02189],[41.84,.02184],[42.02,.02195],[42.17,.02181],[42.35,.02181],[42.48,.02177],[42.35,.02170],[42.67,.02175],[42.85,.02170],[43.22,.02170],[43.49,.02175],[43.71,.02173],[42.30,.02151],[42.61,.02142],[41.75,.02142],
[45.48,.02193],[45.48,.02179],[45.55,.02165],[45.75,.02161],[45.94,.02144],[46.12,.02139],[45.02,.02147],[45.42,.02161],[41.75,.02128],[44.96,.02128],[44.87,.02119],[45.11,.02121],[45.06,.02114],[44.74,.02110],[45.29,.02111],[44.32,.02098],[45.33,.02091],[41.65,.02091],[41.75,.02068],[42.85,.02094],[43.64,.02088],
[44.27,.02068],[45.24,.02077],[45.79,.02068],[45.94,.02063],[45.75,.02058],[45.98,.02082],[43.22,.02054],[43.36,.02046],[43.53,.02056],[43.64,.02046],[43.86,.02058],[42.21,.02047],[45.15,.02040],[46.25,.02038],[45.15,.02021],[45.24,.02012],[45.33,.02004],[43.31,.02021],[43.46,.02028],[42.02,.02020],[42.30,.02007],[42.67,.02004],
[45.15,.01998],[45.70,.02002],[45.88,.02004],[46.07,.02004],[46.44,.02014],[41.62,.01990],[44.60,.01984],[44.78,.01974],[44.96,.01979],[45.06,.01993],[45.61,.01984],[42.57,.01958],[42.11,.01944],[42.30,.01944],[41.84,.01927],[41.93,.01927],[44.23,.01942],[44.32,.01933],[44.96,.01951],[45.42,.01937],[45.52,.01928],[45.75,.01944],
[42.85,.01923],[42.94,.01914],[43.31,.01918],[44.04,.01914],[44.87,.01911],[45.06,.01908],[45.24,.01904],[45.42,.01900],[44.41,.01904],[41.65,.01909],[41.75,.01886],[42.02,.01888],[42.90,.01886],[43.31,.01890],[43.40,.01881],[43.68,.01900],[43.86,.01886],[44.14,.01890],[44.69,.01886],[44.96,.01886],[45.15,.01890],[45.29,.01881],[45.83,.01878],
[44.78,.01875],[44.50,.01863],[44.23,.01867],[43.95,.01872],[44.65,.01860],[44.93,.01860],[43.58,.01856],[43.86,.01856],[45.42,.01858],[45.98,.01858],[43.40,.01869],[42.76,.01869]
];

// M_s = (0, 0, g)
const ms00G = [
[11.45,.02339],[12.47,.02421],[12.07,.01988],[13.30,.02400],[13.39,.02389],[13.24,.02222],[13.96,.02241],
[14.14,.02286],[14.32,.02378],[14.32,.02348],[14.03,.02080],[14.19,.01996],[14.82,.02104],[15.45,.02168],
[15.98,.02030],[16.23,.02022],[16.33,.02001],[16.33,.01882],[16.47,.02149],[16.56,.02279],[16.63,.02076],
[16.93,.01928],[16.91,.01997],[16.98,.02006],[17.08,.02012],[17.03,.01869],[17.07,.02083],[17.10,.02060],
[17.25,.01862],[17.21,.01892],[17.26,.02039],[17.28,.02056],[17.33,.02368],[17.45,.02368],[17.44,.02394],
[17.40,.01983],[17.47,.01913],[17.63,.02296],[17.70,.01892],[17.72,.02366],[17.75,.01990],[17.87,.02368],
[17.90,.02400],[17.89,.02073],[17.89,.02049],[17.98,.02307],[17.98,.02202],[18.10,.02339],[18.16,.02051],
[18.26,.02095],[18.35,.02191],[18.43,.01934],[18.43,.01903],[18.48,.02277],[18.59,.02116],[18.63,.02124],
[18.66,.02003],[18.68,.01902],[18.68,.01896],[18.93,.02427],[19.02,.02220],[19.00,.01948],[19.08,.01923],
[19.09,.02232],[19.05,.02348],[19.14,.02433],[19.12,.02184],[19.19,.01961],[19.23,.02455],[19.23,.01944],
[19.28,.01875],[19.31,.02251],[19.33,.02442],[19.35,.01944],[19.36,.01873],[19.33,.02364],[19.37,.02234],
[19.42,.02175],[19.62,.01891],[19.62,.02085],[19.65,.02351],[19.75,.02092],[19.81,.02448],[19.86,.02309],
[19.95,.02166],[19.95,.02052],[19.98,.02275],[20.02,.02059],[20.14,.02071],[20.19,.02022],[20.21,.02431],
[20.24,.01973],[20.23,.01914],[20.27,.02191],[20.26,.02124],[20.28,.02355],[20.27,.02050],[20.33,.01910],
[20.30,.01861],[20.37,.02045],[20.40,.02375],[20.40,.01903],[20.41,.01916],[20.47,.01980],[20.49,.02302],
[20.51,.02111],[20.58,.02357],[20.58,.02085],[20.63,.01884],[20.66,.02134],[20.70,.02283],[20.75,.02157],
[20.73,.02063],[20.84,.02370],[20.86,.02047],[20.91,.01894],[20.92,.02255],[20.97,.02080],[20.97,.02326],
[21.00,.02190],[21.03,.02041],[21.05,.02106],[21.09,.02185],[21.09,.02149],[21.14,.02425],[21.26,.02359],
[21.26,.02347],[21.27,.02341],[21.26,.02257],[21.28,.02177],[21.31,.02400],[21.47,.02447],[21.79,.02459],
[21.99,.02370]
];

// axis ticks
const ticksY = [0.019, 0.020, 0.021, 0.022, 0.023, 0.024];
const minorY = [0.0184,0.0186,0.0188,0.0192,0.0194,0.0196,0.0198,0.0202,0.0204,0.0206,0.0208,0.0212,0.0214,0.0216,0.0218,
                0.0222,0.0224,0.0226,0.0228,0.0232,0.0234,0.0236,0.0238,0.0242,0.0244,0.0246,0.0248];
const ticksX1 = [15, 20, 25, 30, 35, 40];
const minorX1 = [11,12,13,14,16,17,18,19,21,22,23,24,26,27,28,29,31,32,33,34,36,37,38,39,41,42,43];
const ticksX2 = [30, 35, 40, 45];
const minorX2 = [26,27,28,29,31,32,33,34,36,37,38,39,41,42,43,44,46];
const ticksX3 = [12, 14, 16, 18, 20, 22];
const minorX3 = [11.5,12.5,13,13.5,14.5,15,15.5,16.5,17,17.5,18.5,19,19.5,20.5,21,21.5];

const SERIF = 'Liberation Serif';
const FRAME = '#5a5a5a';

const nameRichX = {
  b:  {fontFamily: SERIF, fontSize: 19, fontWeight: 'bold', color: '#000'},
  pi: {fontFamily: SERIF, fontSize: 20, fontWeight: 'bold', fontStyle: 'italic', color: '#000'}
};
const nameRichY = {
  b:   {fontFamily: SERIF, fontSize: 21, fontWeight: 'bold', color: '#000'},
  sup: {fontFamily: SERIF, fontSize: 14, fontWeight: 'bold', color: '#000', verticalAlign: 'top'},
  th:  {fontFamily: SERIF, fontSize: 22, fontWeight: 'bold', fontStyle: 'italic', color: '#000'},
  sub: {fontFamily: SERIF, fontSize: 16, color: '#000', verticalAlign: 'bottom'}
};
const NAME_X = '{b|| }{pi|p}{b| |(GeV)}';
const NAME_Y = '{b|Sin}{sup|2}{b| }{th|θ}{sub|13}';

// four axes per side pair: labelled major, minor, mirrored major, mirrored minor
function frameAxes(dim, grid, min, max, majors, minors, fmt, nameGap, labelMargin) {
  const isX = dim === 'x';
  const sides = isX ? ['bottom', 'top'] : ['left', 'right'];
  const base = {type: 'value', gridIndex: grid, min: min, max: max, scale: true,
                splitLine: {show: false}, silent: true, axisPointer: {show: false}};
  const tick = (vals, len) => ({show: true, inside: true, length: len, customValues: vals,
                                lineStyle: {color: FRAME, width: 1}});
  const main = Object.assign({}, base, {
    position: sides[0],
    axisLine: {show: true, onZero: false, lineStyle: {color: FRAME, width: 1}},
    axisTick: tick(majors, 6),
    axisLabel: {show: true, customValues: majors, formatter: fmt, margin: labelMargin, color: '#000',
                fontFamily: SERIF, fontWeight: 'bold', fontSize: 18},
    name: isX ? NAME_X : NAME_Y,
    nameLocation: 'middle',
    nameGap: nameGap,
    nameRotate: isX ? 0 : 90,
    nameTextStyle: {rich: isX ? nameRichX : nameRichY}
  });
  const minorSame = Object.assign({}, base, {
    position: sides[0], axisLine: {show: false, onZero: false},
    axisTick: tick(minors, 3), axisLabel: {show: false}
  });
  const mirror = Object.assign({}, base, {
    position: sides[1], axisLine: {show: true, onZero: false, lineStyle: {color: FRAME, width: 1}},
    axisTick: tick(majors, 6), axisLabel: {show: false}
  });
  const minorMirror = Object.assign({}, base, {
    position: sides[1], axisLine: {show: false, onZero: false},
    axisTick: tick(minors, 3), axisLabel: {show: false}
  });
  return [main, minorSame, mirror, minorMirror];
}

const fmtX = v => String(v);
const fmtY = v => v.toFixed(3);

const grids = [
  {left: 76, top: 26, width: 392, height: 243},
  {left: 549, top: 27, width: 388, height: 241},
  {left: 312, top: 347, width: 392, height: 242}
].map(g => Object.assign({containLabel: false, outerBoundsMode: 'none', show: false}, g));

const xAxes = [].concat(
  frameAxes('x', 0, 10.64, 43.52, ticksX1, minorX1, fmtX, 27, 4),
  frameAxes('x', 1, 25.42, 46.82, ticksX2, minorX2, fmtX, 27, 4),
  frameAxes('x', 2, 11.247, 22.176, ticksX3, minorX3, fmtX, 24, 2)
);
const yAxes = [].concat(
  frameAxes('y', 0, 0.01820, 0.02498, ticksY, minorY, fmtY, 45, 4),
  frameAxes('y', 1, 0.01820, 0.02495, ticksY, minorY, fmtY, 47, 4),
  frameAxes('y', 2, 0.01830, 0.02493, ticksY, minorY, fmtY, 47, 4)
);

function dots(data, panel, color, size) {
  return {type: 'scatter', data: data, xAxisIndex: panel * 4, yAxisIndex: panel * 4,
          symbol: 'circle', symbolSize: size, itemStyle: {color: color, opacity: 1},
          silent: true, animation: false};
}

const titleRich = {
  mi:  {fontFamily: SERIF, fontSize: 23, fontWeight: 'bold', fontStyle: 'italic', fill: '#000'},
  sub: {fontFamily: SERIF, fontSize: 15, fontWeight: 'bold', fontStyle: 'italic', fill: '#000', verticalAlign: 'bottom'},
  n:   {fontFamily: SERIF, fontSize: 22, fontWeight: 'bold', fill: '#000'}
};
function title(x, y, parts) {
  return {type: 'text', x: x, y: y, z: 10,
          style: {text: parts, align: 'center', verticalAlign: 'middle', rich: titleRich}};
}
function nhLabel(x, y, size) {
  return {type: 'text', x: x, y: y, z: 10,
          style: {text: 'NH', align: 'center', verticalAlign: 'middle', fill: '#000',
                  font: 'bold ' + size + 'px "' + SERIF + '"'}};
}

const chart = echarts.init(document.getElementById('chart'), null, {renderer: 'canvas'});
chart.setOption({
  backgroundColor: '#fff',
  animation: false,
  grid: grids,
  xAxis: xAxes,
  yAxis: yAxes,
  series: [
    dots(msG00, 0, '#800080', 6),
    dots([].concat(ms0G0a, ms0G0b, ms0G0c, ms0G0d), 1, '#0000ff', 3.6),
    dots(ms00G, 2, '#ff0000', 7.5)
  ],
  graphic: [
    title(272, 13, '{mi|M}{sub|s}{n| = (}{mi|g}{n|, 0, 0)}'),
    title(743, 13, '{mi|M}{sub|s}{n| = (0, }{mi|g}{n|, 0)}'),
    title(508, 334, '{mi|M}{sub|s}{n| = (0, 0, }{mi|g}{n|)}'),
    nhLabel(281, 47, 28),
    nhLabel(561, 259, 14),
    nhLabel(336, 574, 29)
  ]
});
</script>
</body>
</html>
